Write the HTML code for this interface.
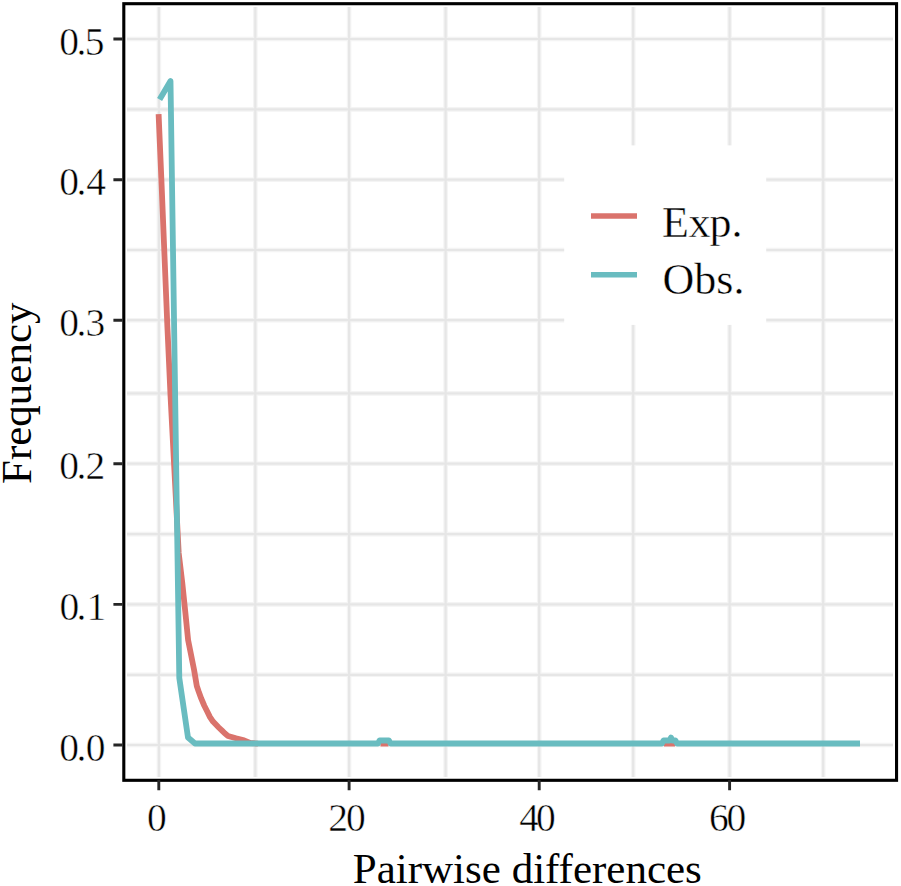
<!DOCTYPE html>
<html><head><meta charset="utf-8"><title>Mismatch distribution</title>
<style>
html,body{margin:0;padding:0;background:#fff;width:901px;height:886px;overflow:hidden}
svg{display:block}
text{font-family:"Liberation Serif",serif;fill:#000}
</style></head><body>
<svg width="901" height="886" viewBox="0 0 901 886">
<rect x="0" y="0" width="901" height="886" fill="#fff"/>
<!-- gridlines -->
<g fill="none">
<path stroke="#f4f4f4" stroke-width="4.6" d="M158.9 7V777M255.3 7V777M349.1 7V777M445.6 7V777M539.2 7V777M633.2 7V777M729.6 7V777M823.2 7V777M127 745H893M127 674.8H893M127 604.4H893M127 534.1H893M127 463.7H893M127 393.4H893M127 320.2H893M127 250H893M127 179.7H893M127 109.4H893M127 39H893"/>
<path stroke="#e6e6e6" stroke-width="2.2" d="M158.9 7V777M255.3 7V777M349.1 7V777M445.6 7V777M539.2 7V777M633.2 7V777M729.6 7V777M823.2 7V777M127 745H893M127 674.8H893M127 604.4H893M127 534.1H893M127 463.7H893M127 393.4H893M127 320.2H893M127 250H893M127 179.7H893M127 109.4H893M127 39H893"/>
</g>
<!-- curves -->
<g fill="none" stroke-width="5.8" stroke-linejoin="round" stroke-linecap="butt">
<polyline stroke="#da736c" points="158.6,114.2 161.65,186 164.5,256 167.4,327 170.6,397 178.7,553 182.3,583 185.3,612 188.1,640 191.1,655 194.1,670 196.8,686 198.5,691 201.2,698.4 204.2,705.5 207.1,711.3 210,717.1 213,721.6 215.9,724.6 218.75,727.5 221.8,730.4 224.7,733.3 228,736 236,738.3 244,740.3 250,743 258,743.6"/>
<path stroke="#da736c" stroke-width="4.4" d="M380.5 744.3H388.5M664 744.3H675"/>
<polyline stroke="#69bcc0" points="159.6,99.5 170.5,81 179.3,678 188,737.5 195,743.5 378,743.5 379.5,740.5 389,740.5 390.5,743.5 662,743.5 663.5,740.5 669.5,740.5 671,737.5 672.5,740.5 675.5,740.5 677,743.5 860,743.5"/>
</g>
<!-- legend -->
<rect x="564.2" y="145.4" width="202" height="179.5" fill="#fff"/>
<path d="M591 216H637" stroke="#da736c" stroke-width="5.6"/>
<path d="M591 274.8H637" stroke="#69bcc0" stroke-width="5.6"/>
<g font-size="44" stroke="#fff" stroke-width="0.4">
<text x="662 688.6 709.4 731.6" y="236.5">Exp.</text>
<text x="662.6" y="294.3">Obs.</text>
</g>
<!-- panel border -->
<rect x="123.8" y="3.7" width="772.75" height="776.6" fill="none" stroke="#000" stroke-width="3.1"/>
<!-- ticks -->
<g stroke="#262626" stroke-width="2.9">
<path d="M113.4 745H122.5M113.4 604.4H122.5M113.4 463.7H122.5M113.4 320.2H122.5M113.4 179.7H122.5M113.4 39H122.5"/>
<path d="M158.8 780V790.3M349.1 780V790.3M539.2 780V790.3M729.6 780V790.3"/>
</g>
<!-- y tick labels -->
<g font-size="39.5" stroke="#fff" stroke-width="0.5">
<text x="59.3 76.5 84.7" y="54.6">0.5</text>
<text x="59.3 76.5 86.2" y="195.3">0.4</text>
<text x="59.3 76.5 85.4" y="335.9">0.3</text>
<text x="59.3 76.5 85.6" y="479.3">0.2</text>
<text x="59.5 76.5 86.5" y="620">0.1</text>
<text x="59.3 76.5 85.7" y="760.6">0.0</text>
</g>
<!-- x tick labels -->
<g font-size="39.5" stroke="#fff" stroke-width="0.5">
<text x="147.1" y="830.9">0</text>
<text x="328.3 346.1" y="830.9">20</text>
<text x="519.2 536.1" y="830.9">40</text>
<text x="709 726.5" y="830.9">60</text>
</g>
<!-- axis titles -->
<text x="352.8" y="882.6" font-size="43">Pairwise differences</text>
<text transform="translate(31.2,484) rotate(-90)" font-size="43">Frequency</text>
</svg>
</body></html>
